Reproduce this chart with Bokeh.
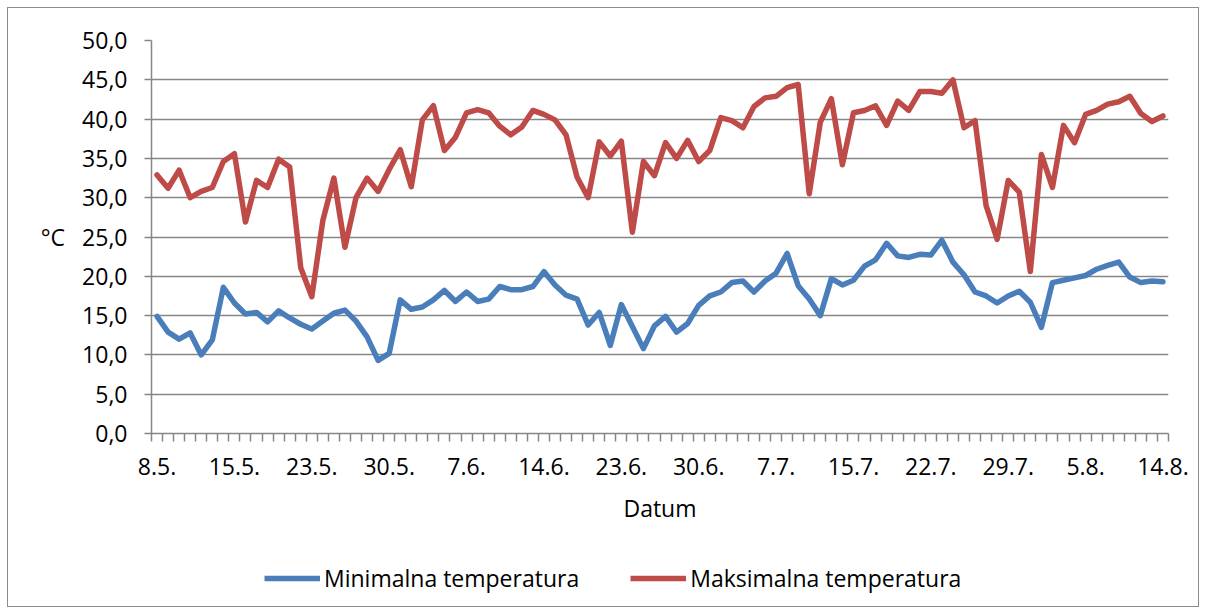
from bokeh.plotting import figure
from bokeh.layouts import column
from bokeh.models import Range1d, FixedTicker, Legend, LegendItem
from bokeh.embed import file_html
from bokeh.resources import INLINE

dates = [
    "8.5.", "9.5.", "10.5.", "11.5.", "12.5.", "13.5.", "14.5.",
    "15.5.", "16.5.", "17.5.", "18.5.", "20.5.", "21.5.", "22.5.",
    "23.5.", "24.5.", "25.5.", "26.5.", "27.5.", "28.5.", "29.5.",
    "30.5.", "31.5.", "1.6.", "2.6.", "4.6.", "5.6.", "6.6.",
    "7.6.", "8.6.", "9.6.", "10.6.", "11.6.", "12.6.", "13.6.",
    "14.6.", "15.6.", "16.6.", "17.6.", "20.6.", "21.6.", "22.6.",
    "23.6.", "24.6.", "25.6.", "26.6.", "27.6.", "28.6.", "29.6.",
    "30.6.", "1.7.", "2.7.", "3.7.", "4.7.", "5.7.", "6.7.",
    "7.7.", "8.7.", "9.7.", "10.7.", "12.7.", "13.7.", "14.7.",
    "15.7.", "16.7.", "17.7.", "18.7.", "19.7.", "20.7.", "21.7.",
    "22.7.", "23.7.", "24.7.", "25.7.", "26.7.", "27.7.", "28.7.",
    "29.7.", "30.7.", "31.7.", "1.8.", "2.8.", "3.8.", "4.8.",
    "5.8.", "6.8.", "7.8.", "8.8.", "11.8.", "12.8.", "13.8.",
    "14.8.",
]

tmin = [
    14.9, 12.9, 12.0, 12.8, 10.0, 11.9, 18.6, 16.6, 15.2, 15.4,
    14.2, 15.6, 14.7, 13.9, 13.3, 14.3, 15.3, 15.7, 14.3, 12.3,
    9.3, 10.2, 17.0, 15.8, 16.1, 17.0, 18.2, 16.8, 18.0, 16.8,
    17.1, 18.7, 18.3, 18.3, 18.7, 20.6, 18.9, 17.6, 17.1, 13.8,
    15.4, 11.2, 16.4, 13.6, 10.8, 13.7, 14.9, 12.9, 14.0, 16.3,
    17.5, 18.0, 19.2, 19.4, 18.0, 19.4, 20.4, 22.9, 18.8, 17.1,
    15.0, 19.7, 18.9, 19.5, 21.3, 22.1, 24.2, 22.6, 22.4, 22.8,
    22.7, 24.6, 21.8, 20.2, 18.0, 17.5, 16.6, 17.5, 18.1, 16.7,
    13.5, 19.2, 19.5, 19.8, 20.1, 20.9, 21.4, 21.8, 19.9, 19.2,
    19.4, 19.3,
]

tmax = [
    32.9, 31.2, 33.5, 30.0, 30.8, 31.3, 34.6, 35.6, 26.9, 32.2,
    31.3, 34.9, 33.9, 21.1, 17.4, 27.1, 32.5, 23.7, 30.0, 32.5,
    30.8, 33.6, 36.1, 31.4, 39.9, 41.7, 36.0, 37.7, 40.8, 41.2,
    40.8, 39.1, 38.0, 39.0, 41.1, 40.6, 39.9, 38.0, 32.6, 30.0,
    37.1, 35.3, 37.2, 25.6, 34.6, 32.8, 37.0, 35.0, 37.3, 34.6,
    36.0, 40.2, 39.8, 38.9, 41.6, 42.7, 42.9, 44.0, 44.4, 30.5,
    39.6, 42.6, 34.2, 40.8, 41.1, 41.7, 39.2, 42.3, 41.1, 43.5,
    43.5, 43.3, 45.0, 38.9, 39.8, 29.0, 24.7, 32.2, 30.7, 20.6,
    35.5, 31.3, 39.2, 37.0, 40.6, 41.1, 41.9, 42.2, 42.9, 40.7,
    39.7, 40.4,
]

y_ticks = [0, 5, 10, 15, 20, 25, 30, 35, 40, 45, 50]
series_names = ["Minimalna temperatura", "Maksimalna temperatura"]
series_colors = ["#4A7EBB", "#BE4B48"]
label_every = 7

GREY = "#868686"
FONT = "Open Sans"
FS = "23px"

n = len(dates)
x = list(range(n))
x_label_ticks = list(range(0, n, label_every))

p = figure(
    width=1206, height=560, output_backend="svg", toolbar_location=None,
    x_range=Range1d(-0.5, n - 0.5), y_range=Range1d(y_ticks[0], y_ticks[-1]),
    min_border_left=151, min_border_right=38, min_border_top=40, min_border_bottom=127,
    background_fill_alpha=0, border_fill_alpha=0,
)
p.outline_line_color = None

# x axis
p.xaxis.ticker = FixedTicker(ticks=x_label_ticks, minor_ticks=[i - 0.5 for i in range(n + 1)])
p.xaxis.major_label_overrides = {i: dates[i] for i in x_label_ticks}
p.xaxis.major_tick_line_color = None
p.xaxis.minor_tick_line_color = GREY
p.xaxis.minor_tick_line_width = 1.5
p.xaxis.minor_tick_out = 8
p.xaxis.minor_tick_in = 0
p.xaxis.axis_line_color = GREY
p.xaxis.axis_line_width = 1.5
p.xaxis.major_label_standoff = 16
p.xaxis.axis_label = "Datum"
p.xaxis.axis_label_standoff = 14

# y axis
p.yaxis.ticker = FixedTicker(ticks=y_ticks, minor_ticks=[])
p.yaxis.major_label_overrides = {v: f"{v:.1f}".replace(".", ",") for v in y_ticks}
p.yaxis.major_tick_line_color = GREY
p.yaxis.major_tick_line_width = 1.5
p.yaxis.major_tick_out = 7
p.yaxis.major_tick_in = 0
p.yaxis.minor_tick_line_color = None
p.yaxis.axis_line_color = GREY
p.yaxis.axis_line_width = 1.5
p.yaxis.major_label_standoff = 17
p.yaxis.axis_label = "°C"
p.yaxis.axis_label_orientation = "horizontal"
p.yaxis.axis_label_standoff = 14

for ax in (p.xaxis, p.yaxis):
    ax.major_label_text_font = FONT
    ax.major_label_text_font_size = FS
    ax.major_label_text_color = "black"
    ax.axis_label_text_font = FONT
    ax.axis_label_text_font_size = FS
    ax.axis_label_text_font_style = "normal"
    ax.axis_label_text_color = "black"

p.xgrid.grid_line_color = None
p.ygrid.grid_line_color = GREY
p.ygrid.grid_line_width = 1.5

for ys, c in zip([tmin, tmax], series_colors):
    p.line(x, ys, line_color=c, line_width=5.5, line_join="round", line_cap="round")

# legend strip underneath (legend glyphs only; its series are not drawn)
lg = figure(
    width=1206, height=54, output_backend="svg", toolbar_location=None,
    x_axis_location=None, y_axis_location=None, min_border=0,
    background_fill_alpha=0, border_fill_alpha=0,
)
lg.outline_line_color = None
lg.grid.visible = False
items = []
for ys, c, name in zip([tmin, tmax], series_colors, series_names):
    r = lg.line(x, ys, line_color=c, line_width=5.5, visible=False)
    items.append(LegendItem(label=name, renderers=[r]))

legend = Legend(
    items=items, orientation="horizontal", location=(113, 20),
    glyph_width=56, glyph_height=20, label_standoff=4, spacing=51,
    padding=0, margin=0, border_line_color=None, background_fill_alpha=0,
    inactive_fill_alpha=0,
    label_text_font=FONT, label_text_font_size=FS, label_text_color="black",
)
lg.add_layout(legend, "center")

layout = column(p, lg, spacing=0)
layout.styles = {"outline": "1px solid #8c8c8c", "outline-offset": "-8px",
                 "background-color": "white"}

open("out.html", "w").write(file_html(layout, INLINE))
